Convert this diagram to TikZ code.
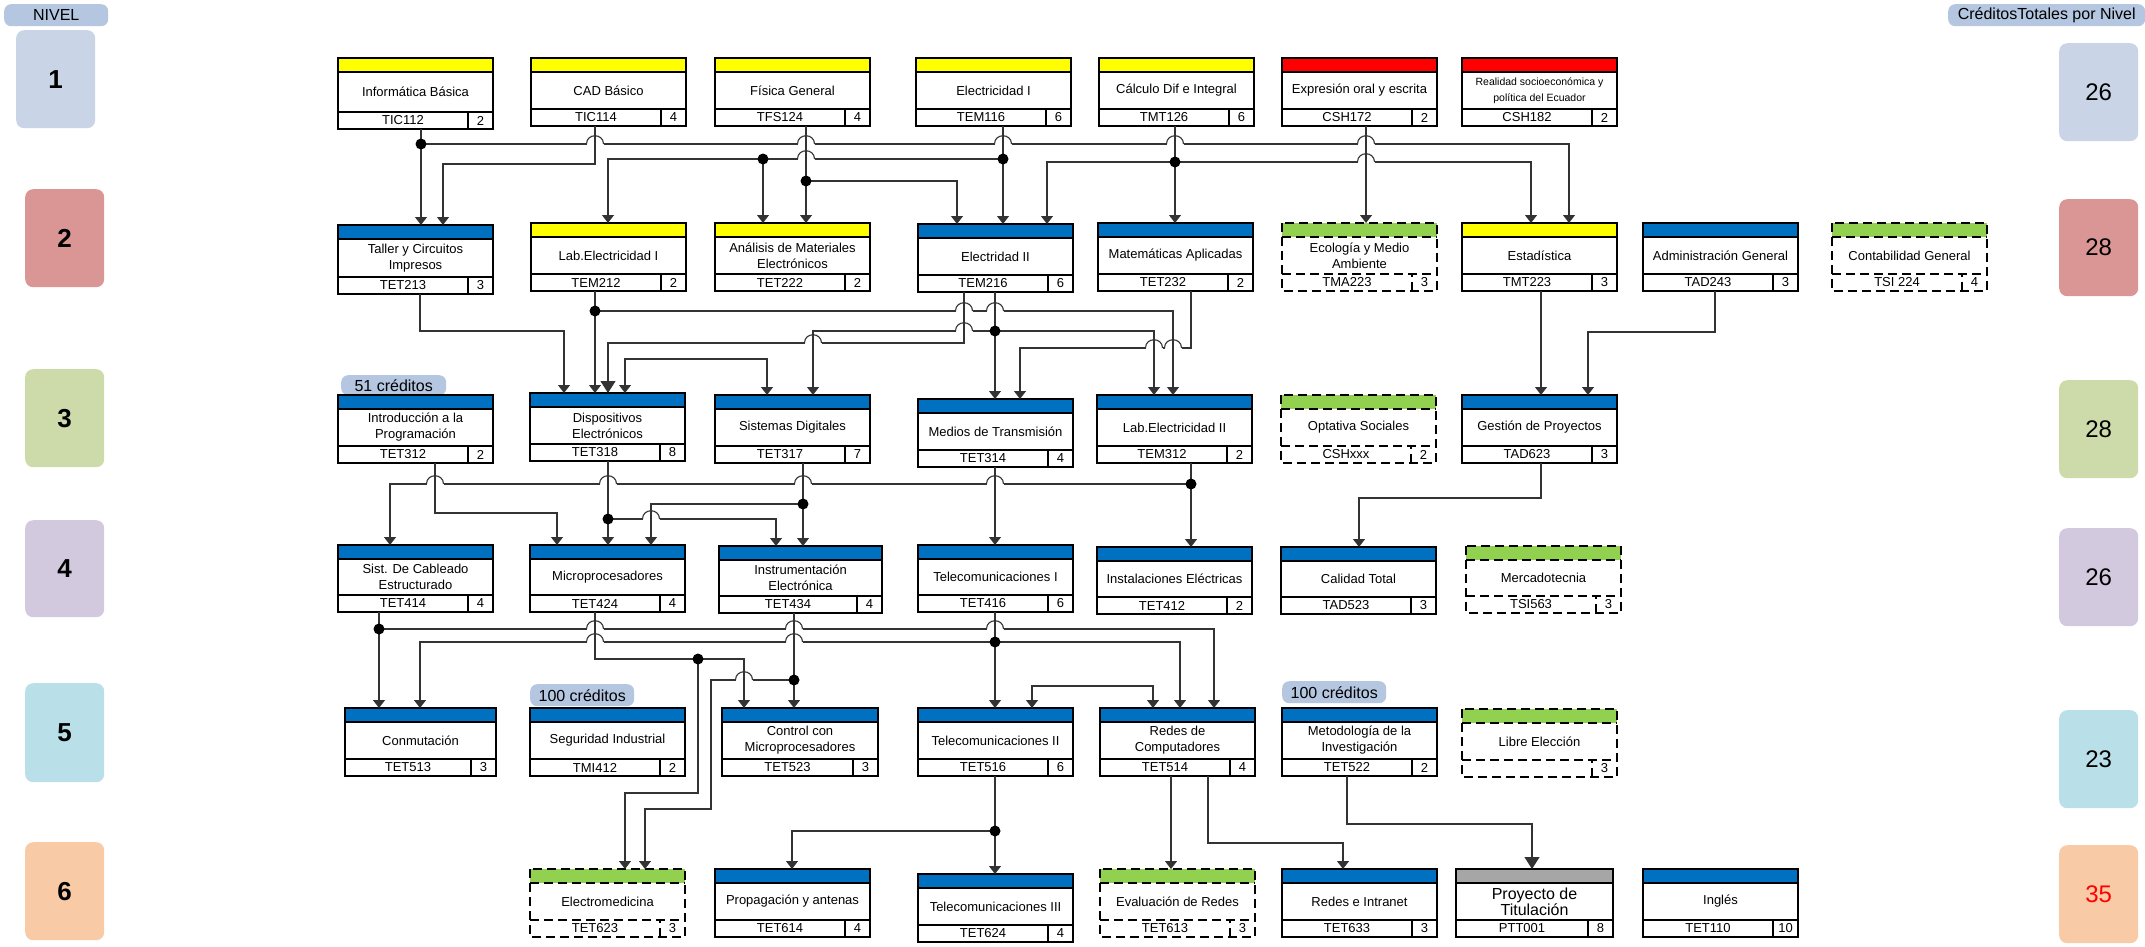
\documentclass[tikz,border=0pt]{standalone}
\usepackage{fontspec}
\setmainfont{Liberation Sans}
\usetikzlibrary{calc,arrows.meta}
\definecolor{hyellow}{HTML}{FFFF00}
\definecolor{hred}{HTML}{FF0000}
\definecolor{hblue}{HTML}{0070C0}
\definecolor{hgreen}{HTML}{92D050}
\definecolor{hgray}{HTML}{A6A6A6}
\definecolor{lv1}{HTML}{C9D5E6}
\definecolor{lv2}{HTML}{DA9694}
\definecolor{lv3}{HTML}{CDDBAA}
\definecolor{lv4}{HTML}{D3C9DF}
\definecolor{lv5}{HTML}{B9E0E8}
\definecolor{lv6}{HTML}{F8CBA6}
\definecolor{pillc}{HTML}{B4C6E0}
\tikzset{
 solidline/.style={draw=black, line width=1.8pt},
 dashline/.style={draw=black, line width=1.8pt, dash pattern=on 9pt off 5pt},
 coursebox/.style={rectangle, fill=white, inner sep=0pt, outer sep=0pt},
 titletext/.style={align=center, inner sep=0pt, font=\fontsize{13}{16}\selectfont},
 codetext/.style={inner sep=0pt, font=\fontsize{13}{15}\selectfont},
 conn/.style={draw=black!80, line width=1.1pt},
 arr/.style={-{Triangle[width=12pt,length=8pt]}},
 bigarr/.style={-{Triangle[width=15pt,length=12pt]}},
 dblarr/.style={{Triangle[width=12pt,length=8pt]}-{Triangle[width=12pt,length=8pt]}},
 lvl/.style={rectangle, rounded corners=8pt, inner sep=0pt, anchor=north west},
 pill/.style={rectangle, rounded corners=7pt, fill=pillc, inner sep=0pt, anchor=north west, font=\fontsize{16}{18}\selectfont},
}
\newcommand\course[9][solidline]{%
 \node[coursebox, minimum width=#4, minimum height=#5, anchor=north west] (#2) at (#3) {};
 \fill[#6] (#2.north west) rectangle ($(#2.north east)+(0,14)$);
 \path[#1] ($(#2.north west)+(0,14)$) -- ($(#2.north east)+(0,14)$);
 \path[#1] ($(#2.south west)+(0,-17)$) -- ($(#2.south east)+(0,-17)$);
 \path[#1] ($(#2.south east)+(-25,0)$) -- ($(#2.south east)+(-25,-17)$);
 \path[#1] (#2.north west) rectangle (#2.south east);
 \node[titletext] (#2-t) at ($(#2.center)+(0,-1.5)$) {#7};
 \node[codetext] (#2-c) at ($(#2.south west)+({(#4-25)/2},-8.5)$) {#8};
 \node[codetext] (#2-k) at ($(#2.south east)+(-12.5,-8.5)$) {#9};
}
\newcommand\hop[2]{%
 \fill[white] ({#1-8.5},{#2-1.5}) rectangle ({#1+8.5},{#2+1.5});
 \draw[conn] ({#1-8.5},#2) .. controls ({#1-8.5},{#2-11}) and ({#1+8.5},{#2-11}) .. ({#1+8.5},#2);
 \draw[conn] (#1,{#2-2.5}) -- (#1,{#2+2.5});
}
\newcommand\jdot[2]{\fill[black] (#1,#2) circle[radius=5.5pt];}
\begin{document}
\begin{tikzpicture}[x=1pt,y=-1pt]
\fill[white] (0,0) rectangle (2145,946);
\useasboundingbox (0,0) rectangle (2145,946);

% level labels
\node[pill, minimum width=104, minimum height=22] (nivel) at (4,4) {NIVEL};
\node[pill, minimum width=197, minimum height=22] (ctot) at (1948,4) {CréditosTotales por Nivel};
\begin{scope}[every node/.append style={font=\fontsize{26}{30}\selectfont\bfseries}]
\node[lvl, fill=lv1, minimum width=79, minimum height=98] (L1) at (16,30) {1};
\node[lvl, fill=lv2, minimum width=79, minimum height=98] (L2) at (25,189) {2};
\node[lvl, fill=lv3, minimum width=79, minimum height=98] (L3) at (25,369) {3};
\node[lvl, fill=lv4, minimum width=79, minimum height=97] (L4) at (25,520) {4};
\node[lvl, fill=lv5, minimum width=79, minimum height=99] (L5) at (25,683) {5};
\node[lvl, fill=lv6, minimum width=79, minimum height=98] (L6) at (25,842) {6};
\end{scope}
\begin{scope}[every node/.append style={font=\fontsize{24}{28}\selectfont}]
\node[lvl, fill=lv1, minimum width=79, minimum height=98] (R1) at (2059,43) {26};
\node[lvl, fill=lv2, minimum width=79, minimum height=97] (R2) at (2059,199) {28};
\node[lvl, fill=lv3, minimum width=79, minimum height=98] (R3) at (2059,380) {28};
\node[lvl, fill=lv4, minimum width=79, minimum height=98] (R4) at (2059,528) {26};
\node[lvl, fill=lv5, minimum width=79, minimum height=98] (R5) at (2059,710) {23};
\node[lvl, fill=lv6, minimum width=79, minimum height=98, text=red] (R6) at (2059,845) {35};
\end{scope}
\node[pill, minimum width=105, minimum height=20] (p51) at (341,375) {51 créditos};
\node[pill, minimum width=104, minimum height=22] (p100a) at (530,684) {100 créditos};
\node[pill, minimum width=104, minimum height=22] (p100b) at (1282,681) {100 créditos};

% Row 1
\course{tic112}{338,58}{155}{71}{hyellow}{Informática Básica}{TIC112}{2}
\course{tic114}{531,58}{155}{68}{hyellow}{CAD Básico}{TIC114}{4}
\course{tfs124}{715,58}{155}{68}{hyellow}{Física General}{TFS124}{4}
\course{tem116}{916,58}{155}{68}{hyellow}{Electricidad I}{TEM116}{6}
\course{tmt126}{1099,58}{155}{68}{hyellow}{Cálculo Dif e Integral}{TMT126}{6}
\course{csh172}{1282,58}{155}{68}{hred}{Expresión oral y escrita}{CSH172}{2}
\course{csh182}{1462,58}{155}{68}{hred}{\fontsize{10.5}{13}\selectfont Realidad socioeconómica y\\\fontsize{10.5}{13}\selectfont política del Ecuador}{CSH182}{2}
% Row 2
\course{tet213}{338,225}{155}{69}{hblue}{Taller y Circuitos\\Impresos}{TET213}{3}
\course{tem212}{531,223}{155}{68}{hyellow}{Lab.Electricidad I}{TEM212}{2}
\course{tet222}{715,223}{155}{68}{hyellow}{Análisis de Materiales\\Electrónicos}{TET222}{2}
\course{tem216}{918,224}{155}{68}{hblue}{Electridad II}{TEM216}{6}
\course{tet232}{1098,223}{155}{68}{hblue}{Matemáticas Aplicadas}{TET232}{2}
\course[dashline]{tma223}{1282,223}{155}{68}{hgreen}{Ecología y Medio\\Ambiente}{TMA223}{3}
\course{tmt223}{1462,223}{155}{68}{hyellow}{Estadística}{TMT223}{3}
\course{tad243}{1643,223}{155}{68}{hblue}{Administración General}{TAD243}{3}
\course[dashline]{tsi224}{1832,223}{155}{68}{hgreen}{Contabilidad General}{TSI 224}{4}
% Row 3
\course{tet312}{338,395}{155}{68}{hblue}{Introducción a la\\Programación}{TET312}{2}
\course{tet318}{530,393}{155}{68}{hblue}{Dispositivos\\Electrónicos}{TET318}{8}
\course{tet317}{715,395}{155}{68}{hblue}{Sistemas Digitales}{TET317}{7}
\course{tet314}{918,399}{155}{68}{hblue}{Medios de Transmisión}{TET314}{4}
\course{tem312}{1097,395}{155}{68}{hblue}{Lab.Electricidad II}{TEM312}{2}
\course[dashline]{cshxxx}{1281,395}{155}{68}{hgreen}{Optativa Sociales}{CSHxxx}{2}
\course{tad623}{1462,395}{155}{68}{hblue}{Gestión de Proyectos}{TAD623}{3}
% Row 4
\course{tet414}{338,545}{155}{67}{hblue}{Sist. De Cableado\\Estructurado}{TET414}{4}
\course{tet424}{530,545}{155}{67}{hblue}{Microprocesadores}{TET424}{4}
\course{tet434}{719,546}{163}{67}{hblue}{Instrumentación\\Electrónica}{TET434}{4}
\course{tet416}{918,545}{155}{67}{hblue}{Telecomunicaciones I}{TET416}{6}
\course{tet412}{1097,547}{155}{67}{hblue}{Instalaciones Eléctricas}{TET412}{2}
\course{tad523}{1281,547}{155}{67}{hblue}{Calidad Total}{TAD523}{3}
\course[dashline]{tsi563}{1466,546}{155}{67}{hgreen}{Mercadotecnia}{TSI563}{3}
% Row 5
\course{tet513}{345,708}{151}{68}{hblue}{Conmutación}{TET513}{3}
\course{tmi412}{530,708}{155}{68}{hblue}{Seguridad Industrial}{TMI412}{2}
\course{tet523}{722,708}{156}{68}{hblue}{Control con\\Microprocesadores}{TET523}{3}
\course{tet516}{918,708}{155}{68}{hblue}{Telecomunicaciones II}{TET516}{6}
\course{tet514}{1100,708}{155}{68}{hblue}{Redes de\\Computadores}{TET514}{4}
\course{tet522}{1282,708}{155}{68}{hblue}{Metodología de la\\Investigación}{TET522}{2}
\course[dashline]{libre}{1462,709}{155}{68}{hgreen}{Libre Elección}{}{3}
% Row 6
\course[dashline]{tet623}{530,869}{155}{68}{hgreen}{Electromedicina}{TET623}{3}
\course{tet614}{715,869}{155}{68}{hblue}{Propagación y antenas}{TET614}{4}
\course{tet624}{918,874}{155}{68}{hblue}{Telecomunicaciones III}{TET624}{4}
\course[dashline]{tet613}{1100,869}{155}{68}{hgreen}{Evaluación de Redes}{TET613}{3}
\course{tet633}{1282,869}{155}{68}{hblue}{Redes e Intranet}{TET633}{3}
\course{ptt001}{1456,869}{157}{68}{hgray}{\fontsize{16}{19}\selectfont Proyecto de\\\fontsize{16}{19}\selectfont Titulación}{PTT001}{8}
\course{tet110}{1643,869}{155}{68}{hblue}{Inglés}{TET110}{10}

% ---------- connectors level 1 -> 2
\draw[conn,arr] (421,0 |- tic112.south) -- (421,0 |- tet213.north);
\draw[conn,arr] (421,0 |- tic112.south) -- (421,144) -- (1569,144) -- (1569,0 |- tmt223.north);
\draw[conn,arr] (595,0 |- tic114.south) -- (595,164) -- (443,164) -- (443,0 |- tet213.north);
\draw[conn,arr] (1003,0 |- tem116.south) -- (1003,0 |- tem216.north);
\draw[conn,arr] (1003,0 |- tem116.south) -- (1003,159) -- (608,159) -- (608,0 |- tem212.north);
\draw[conn,arr] (1003,0 |- tem116.south) -- (1003,159) -- (763,159) -- (763,0 |- tet222.north);
\draw[conn,arr] (806,0 |- tfs124.south) -- (806,0 |- tet222.north);
\draw[conn,arr] (806,0 |- tfs124.south) -- (806,181) -- (957,181) -- (957,0 |- tem216.north);
\draw[conn,arr] (1175,0 |- tmt126.south) -- (1175,0 |- tet232.north);
\draw[conn,arr] (1175,0 |- tmt126.south) -- (1175,162) -- (1047,162) -- (1047,0 |- tem216.north);
\draw[conn,arr] (1175,0 |- tmt126.south) -- (1175,162) -- (1531,162) -- (1531,0 |- tmt223.north);
\draw[conn,arr] (1366,0 |- csh172.south) -- (1366,0 |- tma223.north);
% ---------- level 2 -> 3
\draw[conn,arr] (420,0 |- tet213.south) -- (420,331) -- (564,331) -- (564,0 |- tet318.north);
\draw[conn,arr] (595,0 |- tem212.south) -- (595,0 |- tet318.north);
\draw[conn,arr] (595,0 |- tem212.south) -- (595,311) -- (1173,311) -- (1173,0 |- tem312.north);
\draw[conn,bigarr] (964,0 |- tem216.south) -- (964,343) -- (608,343) -- (608,0 |- tet318.north);
\draw[conn,arr] (995,0 |- tem216.south) -- (995,0 |- tet314.north);
\draw[conn,arr] (995,0 |- tem216.south) -- (995,331) -- (813,331) -- (813,0 |- tet317.north);
\draw[conn,arr] (995,0 |- tem216.south) -- (995,331) -- (1154,331) -- (1154,0 |- tem312.north);
\draw[conn,arr] (1191,0 |- tet232.south) -- (1191,348) -- (1020,348) -- (1020,0 |- tet314.north);
\draw[conn,dblarr] (625,0 |- tet318.north) -- (625,359) -- (767,359) -- (767,0 |- tet317.north);
\draw[conn,arr] (1541,0 |- tmt223.south) -- (1541,0 |- tad623.north);
\draw[conn,arr] (1715,0 |- tad243.south) -- (1715,332) -- (1588,332) -- (1588,0 |- tad623.north);
% ---------- level 3 -> 4
\draw[conn,arr] (435,0 |- tet312.south) -- (435,513) -- (557,513) -- (557,0 |- tet424.north);
\draw[conn,arr] (1191,0 |- tem312.south) -- (1191,0 |- tet412.north);
\draw[conn,arr] (1191,0 |- tem312.south) -- (1191,484) -- (390,484) -- (390,0 |- tet414.north);
\draw[conn,arr] (608,0 |- tet318.south) -- (608,0 |- tet424.north);
\draw[conn,arr] (608,0 |- tet318.south) -- (608,519) -- (776,519) -- (776,0 |- tet434.north);
\draw[conn,arr] (803,0 |- tet317.south) -- (803,0 |- tet434.north);
\draw[conn,arr] (803,0 |- tet317.south) -- (803,504) -- (651,504) -- (651,0 |- tet424.north);
\draw[conn,arr] (995,0 |- tet314.south) -- (995,0 |- tet416.north);
\draw[conn,arr] (1541,0 |- tad623.south) -- (1541,498) -- (1359,498) -- (1359,0 |- tad523.north);
% ---------- level 4 -> 5
\draw[conn,arr] (379,0 |- tet414.south) -- (379,0 |- tet513.north);
\draw[conn,arr] (379,0 |- tet414.south) -- (379,629) -- (1214,629) -- (1214,0 |- tet514.north);
\draw[conn,arr] (995,0 |- tet416.south) -- (995,0 |- tet516.north);
\draw[conn,arr] (995,0 |- tet416.south) -- (995,642) -- (420,642) -- (420,0 |- tet513.north);
\draw[conn,arr] (995,0 |- tet416.south) -- (995,642) -- (1180,642) -- (1180,0 |- tet514.north);
\draw[conn,arr] (595,0 |- tet424.south) -- (595,659) -- (744,659) -- (744,0 |- tet523.north);
\draw[conn,arr] (595,0 |- tet424.south) -- (595,659) -- (698,659) -- (698,793) -- (625,793) -- (625,0 |- tet623.north);
\draw[conn,arr] (794,0 |- tet434.south) -- (794,0 |- tet523.north);
\draw[conn,arr] (794,0 |- tet434.south) -- (794,680) -- (711,680) -- (711,809) -- (645,809) -- (645,0 |- tet623.north);
\draw[conn,dblarr] (1032,0 |- tet516.north) -- (1032,686) -- (1153,686) -- (1153,0 |- tet514.north);
% ---------- level 5 -> 6
\draw[conn,arr] (995,0 |- tet516.south) -- (995,0 |- tet624.north);
\draw[conn,arr] (995,0 |- tet516.south) -- (995,831) -- (792,831) -- (792,0 |- tet614.north);
\draw[conn,arr] (1171,0 |- tet514.south) -- (1171,0 |- tet613.north);
\draw[conn,arr] (1208,0 |- tet514.south) -- (1208,843) -- (1343,843) -- (1343,0 |- tet633.north);
\draw[conn,bigarr] (1347,0 |- tet522.south) -- (1347,824) -- (1532,824) -- (1532,0 |- ptt001.north);

% hops
\hop{595}{144}\hop{806}{144}\hop{1003}{144}\hop{1175}{144}\hop{1366}{144}
\hop{806}{159}\hop{1366}{162}
\hop{964}{311}\hop{995}{311}\hop{964}{331}\hop{813}{343}\hop{1154}{348}\hop{1173}{348}
\hop{435}{484}\hop{608}{484}\hop{803}{484}\hop{995}{484}\hop{651}{519}
\hop{595}{629}\hop{794}{629}\hop{995}{629}\hop{595}{642}\hop{794}{642}\hop{744}{680}

% junction dots
\jdot{421}{144}\jdot{1003}{159}\jdot{763}{159}\jdot{806}{181}\jdot{1175}{162}
\jdot{595}{311}\jdot{995}{331}
\jdot{1191}{484}\jdot{608}{519}\jdot{803}{504}
\jdot{379}{629}\jdot{995}{642}\jdot{698}{659}\jdot{794}{680}
\jdot{995}{831}
\end{tikzpicture}
\end{document}
